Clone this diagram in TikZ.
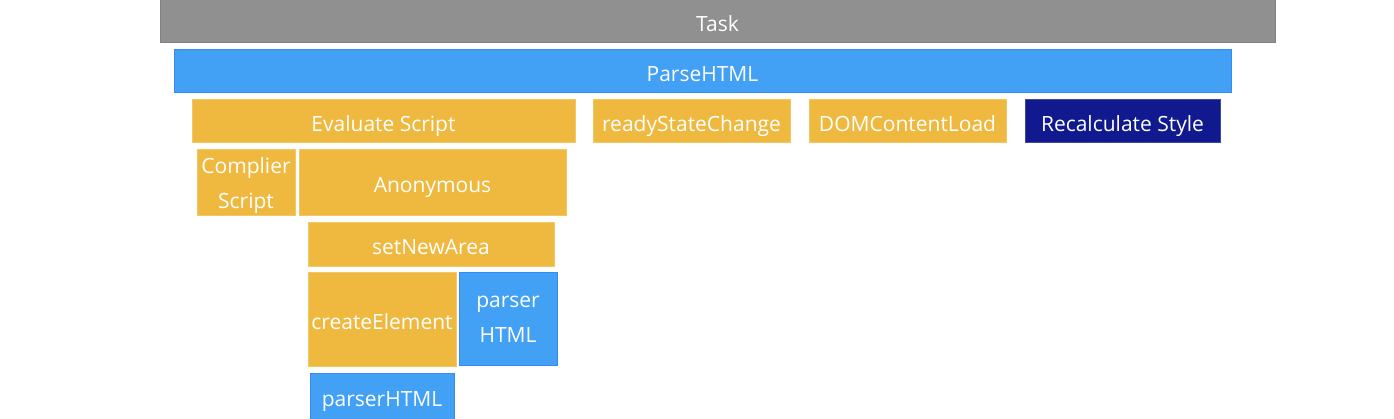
\documentclass[tikz,border=0pt]{standalone}
\usepackage{fontspec}
\setmainfont{Open Sans}
\usetikzlibrary{positioning}
\definecolor{taskgray}{HTML}{909090}
\definecolor{parseblue}{HTML}{42A0F5}
\definecolor{scriptorange}{HTML}{EFB93F}
\definecolor{stylenavy}{HTML}{101A8E}

\begin{document}
\begin{tikzpicture}[x=1pt, y=-1pt]
            \tikzset{
                bar/.style={draw, rectangle, inner sep=0pt, text=white, align=center,
                    font=\fontsize{21}{31}\selectfont, line width=1pt,
                    text height=20pt, text depth=0pt},
                twoline/.style={text height={}, text depth=0pt},
                graybar/.style={bar, fill=taskgray, draw=taskgray!90!black},
                bluebar/.style={bar, fill=parseblue, draw=parseblue!85!blue},
                orangebar/.style={bar, fill=scriptorange, draw=scriptorange!80!white},
                navybar/.style={bar, fill=stylenavy, draw=stylenavy!80!white}
            }
            \useasboundingbox (0,0) rectangle (1394,419);

            % Call stack of the parsing task
            \node[graybar, minimum width=1115pt, minimum height=43pt] (task) at (717.5,21.5) {Task};
            \node[bluebar, minimum width=1057pt, minimum height=43pt] (parse) at (702.5,71.5) {ParseHTML};

            \node[orangebar, minimum width=383pt, minimum height=43pt] (evaluate) at (383.5,121.5) {Evaluate Script};
            \node[orangebar, minimum width=197pt, minimum height=43pt] (ready) at (691.5,121.5) {readyStateChange};
            \node[orangebar, minimum width=197pt, minimum height=43pt] (domload) at (907.5,121.5) {DOMContentLoad};
            \node[navybar, minimum width=195pt, minimum height=43pt] (recalc) at (1122.5,121.5) {Recalculate Style};

            \node[orangebar, twoline, minimum width=98pt, minimum height=66pt] (compile) at (246,183) {Complier\\[4pt]Script};
            \node[orangebar, minimum width=267pt, minimum height=66pt] (anon) at (432.5,183) {Anonymous};

            \node[orangebar, minimum width=246pt, minimum height=44pt] (setarea) at (431,245) {setNewArea};

            \node[orangebar, minimum width=148pt, minimum height=93pt] (create) at (382,319.5) {createElement};
            \node[bluebar, twoline, minimum width=98pt, minimum height=92pt] (parserb) at (508,319) {parser\\[4pt]HTML};

            \node[bluebar, minimum width=144pt, minimum height=46pt] (parsera) at (382,396) {parserHTML};
        \end{tikzpicture}
\end{document}
